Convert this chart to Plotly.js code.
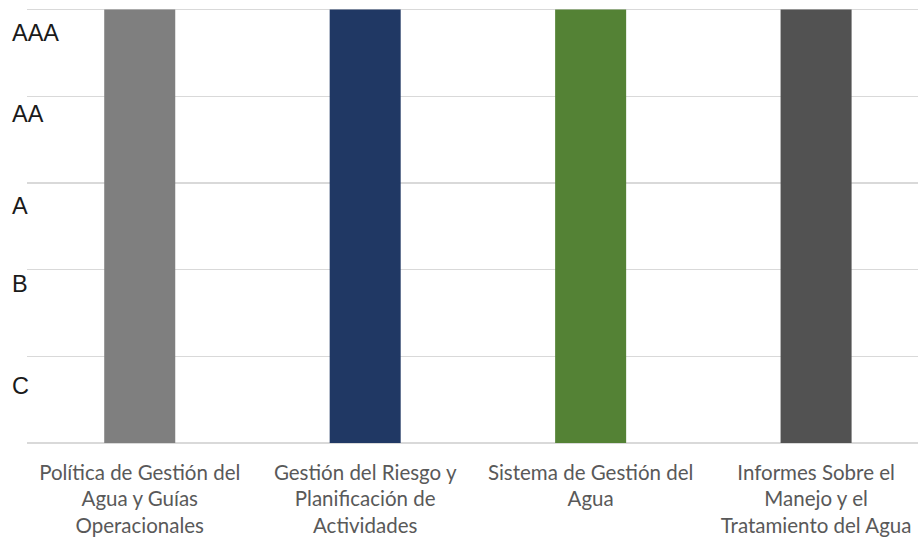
<!DOCTYPE html>
<html>
<head>
<meta charset="utf-8">
<script src="https://cdn.plot.ly/plotly-3.0.1.min.js"></script>
<style>html,body{margin:0;padding:0;background:#fff;}#chart{width:918px;height:541px;}</style>
</head>
<body>
<div id="chart"></div>
<script>
const categories = [
  "Política de Gestión del<br>Agua y Guías<br>Operacionales",
  "Gestión del Riesgo y<br>Planificación de<br>Actividades",
  "Sistema de Gestión del<br>Agua",
  "Informes Sobre el<br>Manejo y el<br>Tratamiento del Agua"
];
const values = [5, 5, 5, 5];
const barColors = ["#7f7f7f", "#203864", "#548235", "#525252"];
const ratingLabels = ["AAA", "AA", "A", "B", "C"];
const ratingPositions = [4.73, 3.79, 2.73, 1.84, 0.66];

const trace = {
  type: "bar",
  x: [0, 1, 2, 3],
  y: values,
  marker: {color: barColors},
  hoverinfo: "skip"
};

const annotations = ratingLabels.map((t, i) => ({
  text: t,
  x: 0, xref: "paper", xanchor: "left", xshift: 10,
  y: ratingPositions[i], yref: "y", yanchor: "middle",
  showarrow: false,
  font: {family: "Liberation Sans, Arial, sans-serif", size: 23.5, color: "#1a1a1a"}
}));

const layout = {
  width: 918, height: 541,
  margin: {l: 0, r: 0, t: 7, b: 98},
  paper_bgcolor: "#fff", plot_bgcolor: "#fff",
  showlegend: false,
  bargap: 0.685,
  xaxis: {
    domain: [27/918, 1],
    range: [-0.5, 3.452],
    tickmode: "array",
    tickvals: [0, 1, 2, 3],
    ticktext: categories,
    showgrid: false, zeroline: false, showline: false, ticks: "",
    ticklabelstandoff: 15,
    tickfont: {family: "Lato, Open Sans, sans-serif", size: 20.5, color: "#595959"}
  },
  yaxis: {
    range: [0, 5.03],
    dtick: 1,
    showticklabels: false,
    showgrid: true, gridcolor: "#d9d9d9", gridwidth: 1.5,
    zeroline: true, zerolinecolor: "#d9d9d9", zerolinewidth: 1.5,
    showline: false, ticks: ""
  },
  annotations: annotations
};

Plotly.newPlot("chart", [trace], layout, {displayModeBar: false, staticPlot: true});
</script>
</body>
</html>
